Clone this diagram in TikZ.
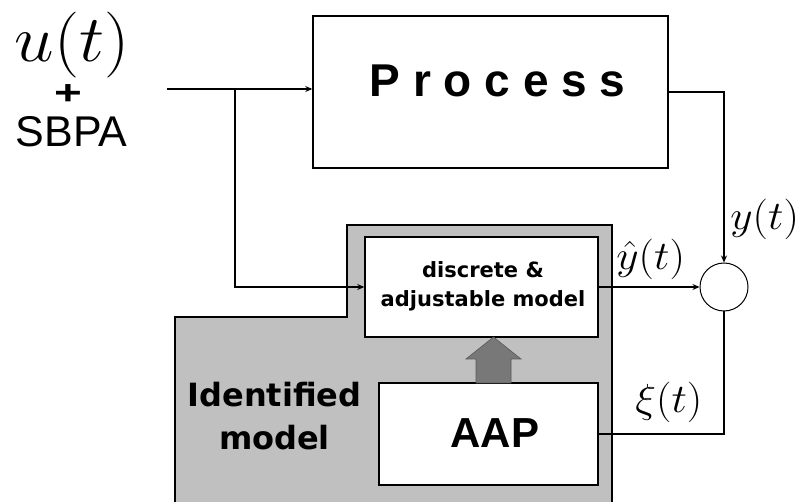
\documentclass[tikz,border=0pt]{standalone}
\usepackage{fontspec}
\newfontfamily\arialf{Liberation Sans}
\newfontfamily\tahf{DejaVu Sans}
\usetikzlibrary{arrows.meta,calc}
\definecolor{regiongray}{RGB}{192,192,192}
\definecolor{arrowgray}{RGB}{120,120,120}
\tikzset{
  blk/.style={draw=black, line width=1.5pt, fill=white, inner sep=0pt},
  conn/.style={draw=black, line width=1.3pt},
  arr/.style={-{Stealth[length=7pt,width=6pt]}},
  mathlbl/.style={anchor=base west, inner sep=0pt, font=\Huge, xscale=1.75, yscale=1.63}
}
\begin{document}
\begin{tikzpicture}[x=1pt,y=-1pt]
\useasboundingbox (0,0) rectangle (803,502);
% identified model region
\fill[regiongray] (175,502) -- (175,317) -- (347,317) -- (347,225) -- (612,225) -- (612,502) -- cycle;
\draw[line width=1.5pt] (175,502) -- (175,317) -- (347,317) -- (347,225) -- (612,225) -- (612,502);
% boxes
\node[blk, minimum width=355pt, minimum height=152pt] (proc) at (490.5,92) {};
\node[anchor=base, inner sep=0pt, font=\arialf\bfseries\fontsize{46}{50}\selectfont] (proct) at (497.5,97) {P r o c e s s};
\node[blk, minimum width=233pt, minimum height=100pt] (disc) at (481.5,287) {};
\node[align=center, inner sep=0pt, font=\tahf\bfseries\fontsize{21}{29}\selectfont] (disct) at (483,286) {discrete \&\\adjustable model};
\node[blk, minimum width=219pt, minimum height=102pt] (aap) at (488.5,434) {};
\node[anchor=base, inner sep=0pt, font=\arialf\bfseries\fontsize{42}{46}\selectfont] (aapt) at (495,447) {AAP};
% gray block arrow
\filldraw[fill=arrowgray, draw=black!65, line width=0.6pt] (476,383) -- (476,359) -- (466,359) -- (493.5,337) -- (521,359) -- (511,359) -- (511,383) -- cycle;
% summing junction
\node[draw, circle, minimum size=48pt, inner sep=0pt, line width=1pt] (sum) at (724,287) {};
% connectors
\coordinate (uin) at (167,89);
\coordinate (br) at (235,89);
\draw[conn, arr] (uin) -- (uin -| proc.west);
\draw[conn, arr] (br) |- (disc.west);
\draw[conn, arr] (proc.east) -| (sum.north);
\draw[conn, arr] (disc.east) -- (sum.west);
\draw[conn] (aap.east) -| (sum.south);
% labels
\node[anchor=base west, inner sep=0pt, font=\Huge, xscale=2.85, yscale=2.65] (ut) at (14,61.5) {$u(t)$};
\node[inner sep=0pt, xscale=1.4, font=\arialf\bfseries\fontsize{34}{36}\selectfont] (plus) at (68,95) {+};
\node[anchor=base, inner sep=0pt, font=\arialf\fontsize{43}{46}\selectfont] (sbpa) at (71.5,147) {SBPA};
\node[mathlbl] (yhat) at (616,270) {$\hat y(t)$};
\node[mathlbl] (yt) at (730,230) {$y(t)$};
\node[mathlbl] (xi) at (635,413) {$\xi(t)$};
\node[align=center, inner sep=0pt, font=\tahf\bfseries\fontsize{32}{43}\selectfont] (idm) at (274.5,416.5) {Identified\\model};
\end{tikzpicture}
\end{document}
